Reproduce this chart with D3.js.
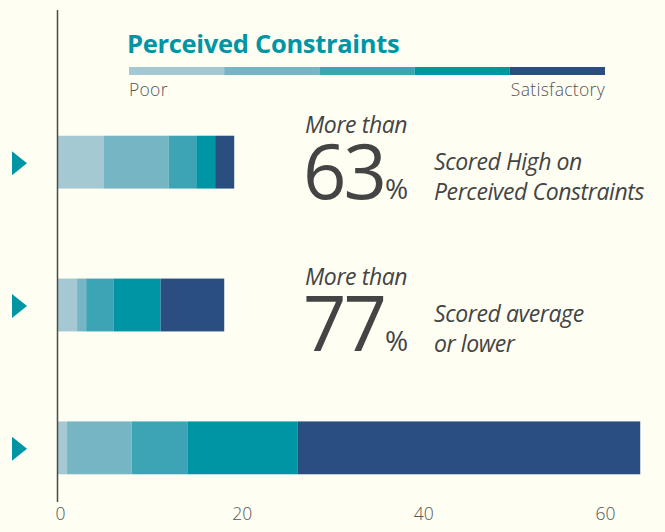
<!DOCTYPE html>
<html>
<head>
<meta charset="utf-8">
<script src="https://cdn.jsdelivr.net/npm/d3@7"></script>
<style>
  body { margin: 0; background: #fefef3; }
  svg { display: block; }
  text { font-family: "Open Sans", "Noto Sans", sans-serif; }
</style>
</head>
<body>
<script>
const width = 665;
const height = 532;

// stacked segments, poor -> satisfactory
const groups = ["g1", "g2", "g3"];
const levels = ["l1", "l2", "l3", "l4", "l5"];
const seg1 = [5, 7.2, 3.1, 2, 2.1];
const seg2 = [2.1, 1, 3, 5.2, 7];
const seg3 = [1, 7.1, 6.2, 12.1, 37.7];
const colors = ["#a4c9d3", "#76b5c3", "#3ca4b4", "#0095a5", "#294e7f"];
const ticks = [0, 20, 40, 60];

const legendTitle = "Perceived Constraints";
const legendEnds = ["Poor", "Satisfactory"];

const bigNums = ["63", "77"];
const noteLines = [["Scored High on", "Perceived Constraints"], ["Scored average", "or lower"]];

const svg = d3.select("body").append("svg")
  .attr("width", width)
  .attr("height", height);

const x = d3.scaleLinear().domain([0, 60]).range([58, 603]);
const y = d3.scaleBand().domain(groups).range([90, 520]).paddingInner(0.63).paddingOuter(0.32);

const rows = [seg1, seg2, seg3].map((vals, i) => {
  let acc = 0;
  return vals.map((v, j) => {
    const d = { g: groups[i], j, x0: acc, x1: acc + v };
    acc += v;
    return d;
  });
});

svg.append("g").selectAll("g")
  .data(rows)
  .join("g")
  .selectAll("rect")
  .data(d => d)
  .join("rect")
  .attr("x", d => x(d.x0))
  .attr("width", d => x(d.x1) - x(d.x0))
  .attr("y", d => y(d.g))
  .attr("height", y.bandwidth())
  .attr("fill", d => colors[d.j]);

// triangles
svg.append("g").selectAll("path")
  .data(groups)
  .join("path")
  .attr("d", g => {
    const cy = y(g) + y.bandwidth() / 2 + 1;
    return `M12,${cy - 12}L27,${cy}L12,${cy + 12}Z`;
  })
  .attr("fill", "#0095a5");

// axis line
svg.append("line")
  .attr("x1", x(0) - 0.5).attr("x2", x(0) - 0.5)
  .attr("y1", 10).attr("y2", 502)
  .attr("stroke", "#4a4a4a")
  .attr("stroke-width", 1.5);

const xAxis = svg.append("g")
  .attr("transform", "translate(0,508)")
  .call(d3.axisBottom(x).tickValues(ticks).tickSize(0).tickPadding(0));
xAxis.select(".domain").remove();
xAxis.selectAll("text")
  .attr("dx", 2)
  .attr("font-size", 17.5)
  .attr("font-family", "Open Sans, sans-serif")
  .attr("font-weight", 300)
  .attr("fill", "#555");

// legend
const lx = d3.scaleBand().domain(levels).range([129, 605]);
svg.append("text")
  .attr("x", 127).attr("y", 53)
  .attr("font-size", 25.5)
  .attr("font-weight", 700)
  .attr("fill", "#0095a5")
  .attr("letter-spacing", -0.3)
  .text(legendTitle);
svg.append("g").selectAll("rect")
  .data(levels)
  .join("rect")
  .attr("x", d => lx(d))
  .attr("width", lx.bandwidth())
  .attr("y", 67).attr("height", 8)
  .attr("fill", (d, i) => colors[i]);
svg.append("text")
  .attr("x", 129).attr("y", 96)
  .attr("font-size", 17.5).attr("font-weight", 300)
  .attr("letter-spacing", 0.3)
  .attr("fill", "#555")
  .text(legendEnds[0]);
svg.append("text")
  .attr("x", 605).attr("y", 96)
  .attr("text-anchor", "end")
  .attr("font-size", 17.5).attr("font-weight", 300)
  .attr("letter-spacing", 0.3)
  .attr("fill", "#555")
  .text(legendEnds[1]);

// annotations
const notes = svg.append("g").selectAll("g")
  .data(bigNums)
  .join("g")
  .attr("transform", (d, i) => `translate(0,${i * 152})`);

notes.append("text")
  .attr("x", 305).attr("y", 133)
  .attr("font-size", 23).attr("font-style", "italic")
  .attr("fill", "#444")
  .attr("letter-spacing", -0.4)
  .text("More than");
notes.append("text")
  .attr("x", 303).attr("y", 199)
  .attr("font-size", 76)
  .attr("fill", "#444")
  .attr("letter-spacing", -3)
  .text(d => d);
notes.append("text")
  .attr("x", 385).attr("y", 199)
  .attr("font-size", 28)
  .attr("fill", "#444")
  .text("%");
notes.each(function(d, i) {
  d3.select(this).selectAll(".ln")
    .data(noteLines[i])
    .join("text")
    .attr("class", "ln")
    .attr("x", 434)
    .attr("y", (t, k) => 170 + k * 30)
    .attr("font-size", 23).attr("font-style", "italic")
    .attr("fill", "#444")
    .attr("letter-spacing", -0.4)
    .text(t => t);
});
</script>
</body>
</html>
